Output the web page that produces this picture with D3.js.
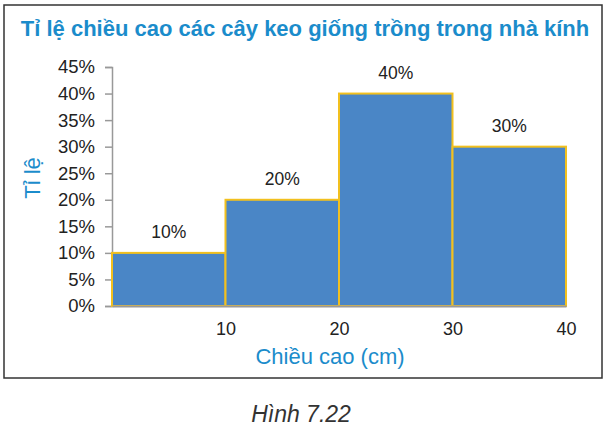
<!DOCTYPE html>
<html lang="vi">
<head>
<meta charset="UTF-8">
<script src="https://d3js.org/d3.v7.min.js"></script>
<style>
  body { margin: 0; background: #fff; }
  text { font-family: "Liberation Sans", Arial, sans-serif; }
</style>
</head>
<body>
<svg id="chart" width="607" height="430"></svg>
<script>
// data
const binStarts = [0, 10, 20, 30]
const binEnds = [10, 20, 30, 40]
const percents = [10, 20, 40, 30]
const yTicks = [0, 5, 10, 15, 20, 25, 30, 35, 40, 45]
const xTicks = [10, 20, 30, 40]

const bins = binStarts.map((s, i) => ({ x0: s, x1: binEnds[i], v: percents[i] }))

const svg = d3.select("#chart")

// frame
svg.append("rect")
  .attr("x", 4).attr("y", 5).attr("width", 598).attr("height", 373)
  .attr("fill", "#fff").attr("stroke", "#333").attr("stroke-width", 1.5)

const x = d3.scaleLinear().domain([0, 40]).range([112, 566])
const y = d3.scaleLinear().domain([0, 45]).range([306, 67])

// y axis
const yAxis = svg.append("g")
  .attr("transform", `translate(${x(0)},0)`)
  .call(d3.axisLeft(y).tickValues(yTicks).tickFormat(d => d + "%").tickSize(7).tickPadding(10))
yAxis.select(".domain").attr("stroke", "#999").attr("stroke-width", 1.5)
yAxis.selectAll(".tick line").attr("stroke", "#999").attr("stroke-width", 1.5)
yAxis.selectAll(".tick text").attr("font-size", 18.5).attr("fill", "#222")
  .attr("font-family", "Liberation Sans, Arial, sans-serif")

// bars
svg.append("g").selectAll("rect")
  .data(bins)
  .enter()
  .append("rect")
  .attr("x", d => x(d.x0))
  .attr("y", d => y(d.v))
  .attr("width", d => x(d.x1) - x(d.x0))
  .attr("height", d => y(0) - y(d.v))
  .attr("fill", "#4a86c6")
  .attr("stroke", "#f2c01e")
  .attr("stroke-width", 2)

// x axis (baseline drawn over bar bottoms)
const xAxis = svg.append("g")
  .attr("transform", `translate(0,${y(0)})`)
  .call(d3.axisBottom(x).tickValues(xTicks).tickSize(0).tickPadding(16))
xAxis.select(".domain").attr("stroke", "#999").attr("stroke-width", 2)
xAxis.selectAll(".tick text").attr("font-size", 18).attr("fill", "#222")
  .attr("font-family", "Liberation Sans, Arial, sans-serif")

// value labels
svg.append("g").selectAll("text")
  .data(bins)
  .enter()
  .append("text")
  .attr("x", d => (x(d.x0) + x(d.x1)) / 2)
  .attr("y", d => y(d.v) - 15)
  .attr("text-anchor", "middle")
  .attr("font-size", 17.5)
  .attr("fill", "#222")
  .text(d => d.v + "%")

// title
svg.append("text")
  .attr("x", 305).attr("y", 36)
  .attr("text-anchor", "middle")
  .attr("font-size", 22)
  .attr("font-weight", "bold")
  .attr("fill", "#1b8ccb")
  .text("Tỉ lệ chiều cao các cây keo giống trồng trong nhà kính")

// axis titles
svg.append("text")
  .attr("transform", "translate(40,178) rotate(-90)")
  .attr("text-anchor", "middle")
  .attr("font-size", 22)
  .attr("fill", "#1b8ccb")
  .text("Tỉ lệ")

svg.append("text")
  .attr("x", 330).attr("y", 364)
  .attr("text-anchor", "middle")
  .attr("font-size", 22)
  .attr("fill", "#1b8ccb")
  .text("Chiều cao (cm)")

// caption
svg.append("text")
  .attr("x", 301).attr("y", 422)
  .attr("text-anchor", "middle")
  .attr("font-size", 23)
  .attr("font-style", "italic")
  .attr("fill", "#333")
  .text("Hình 7.22")
</script>
</body>
</html>
